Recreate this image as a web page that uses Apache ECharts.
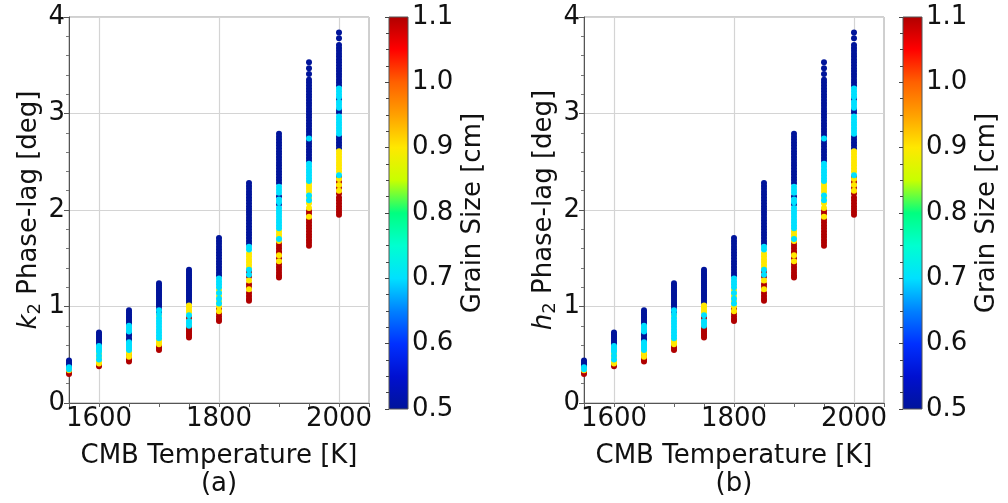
<!DOCTYPE html>
<html>
<head>
<meta charset="utf-8">
<script src="https://cdn.jsdelivr.net/npm/echarts@6/dist/echarts.min.js"></script>
<style>
html,body{margin:0;padding:0;background:#fff;}
#chart{width:1008px;height:503px;}
</style>
</head>
<body>
<div id="chart"></div>
<script>
// ---- data ----
const temps = [1550, 1600, 1650, 1700, 1750, 1800, 1850, 1900, 1950, 2000];
const grainSizes = [0.5, 0.7, 0.9, 1.1];
const xTickLabels = [1600, 1800, 2000];
const cbarTickLabels = ['0.5', '0.6', '0.7', '0.8', '0.9', '1.0', '1.1'];

// k2 phase lag [deg], grain size 0.5 cm, one list per temperature
const k2_g05 = [
  [0.44, 0.42, 0.40, 0.38],
  [0.73, 0.71, 0.69, 0.67, 0.65, 0.63, 0.61],
  [0.96, 0.94, 0.92, 0.90, 0.88, 0.86, 0.84, 0.82, 0.72, 0.70, 0.67, 0.65],
  [1.24, 1.22, 1.20, 1.18, 1.16, 1.14, 1.12, 1.10, 1.08, 1.06, 1.04, 1.02, 1.00, 0.97, 0.94],
  [1.38, 1.36, 1.34, 1.32, 1.30, 1.28, 1.26, 1.24, 1.22, 1.20, 1.18, 1.16, 1.14, 1.12, 1.10, 1.08, 1.06, 1.04],
  [1.71, 1.68, 1.65, 1.62, 1.59, 1.56, 1.53, 1.50, 1.47, 1.44, 1.41, 1.38, 1.35, 1.32],
  [2.28, 2.25, 2.22, 2.19, 2.16, 2.13, 2.10, 2.07, 2.04, 2.01, 1.98, 1.95, 1.92, 1.89, 1.86, 1.83, 1.80, 1.77, 1.74, 1.71, 1.68, 1.65],
  [2.79, 2.76, 2.73, 2.70, 2.67, 2.64, 2.61, 2.58, 2.55, 2.52, 2.49, 2.46, 2.43, 2.40, 2.37, 2.34, 2.31, 2.28, 2.14, 2.06],
  [3.53, 3.47, 3.41, 3.35, 3.32, 3.29, 3.26, 3.23, 3.20, 3.17, 3.14, 3.11, 3.08, 3.05, 3.02, 2.99, 2.96, 2.93, 2.90, 2.87, 2.84, 2.81, 2.78, 2.75, 2.72, 2.69, 2.66, 2.63, 2.60, 2.57, 2.54, 2.51],
  [3.84, 3.78, 3.71, 3.68, 3.65, 3.62, 3.59, 3.56, 3.53, 3.50, 3.47, 3.44, 3.41, 3.38, 3.35, 3.32, 3.29, 3.15, 3.04, 3.01, 2.76, 2.73, 2.70, 2.67, 2.64]
];
// grain size 0.7 cm
const k2_g07 = [
  [0.37, 0.35],
  [0.59, 0.57, 0.55, 0.53, 0.49, 0.45],
  [0.80, 0.78, 0.76, 0.74, 0.63, 0.61, 0.59, 0.57, 0.55],
  [0.96, 0.92, 0.88, 0.85, 0.82, 0.79, 0.76, 0.73, 0.70, 0.67],
  [0.91, 0.85, 0.83, 0.80],
  [1.29, 1.26, 1.23, 1.20, 1.14, 1.08, 1.03],
  [1.62, 1.59, 1.38, 1.33],
  [2.24, 2.21, 2.18, 2.11, 2.08, 2.02, 1.99, 1.96, 1.93, 1.90, 1.87, 1.84, 1.81, 1.70],
  [2.74, 2.48, 2.45, 2.42, 2.39, 2.36, 2.33, 2.30, 2.15, 2.10],
  [3.26, 3.23, 3.20, 3.17, 3.12, 3.09, 3.06, 2.97, 2.94, 2.91, 2.88, 2.85, 2.82, 2.79, 2.36]
];
// grain size 0.9 cm
const k2_g09 = [
  [0.34],
  [0.51, 0.47, 0.43, 0.41],
  [0.53, 0.51, 0.48],
  [0.91, 0.65, 0.63, 0.61],
  [1.01, 0.99, 0.96, 0.94, 0.82],
  [1.17, 1.11, 1.05, 1.00, 0.95],
  [1.55, 1.52, 1.49, 1.46, 1.43, 1.40, 1.27, 1.18],
  [1.78, 1.75, 1.72, 1.68, 1.53, 1.47],
  [2.28, 2.25, 2.22, 2.19, 2.13, 2.07, 2.02, 1.93],
  [2.61, 2.58, 2.55, 2.52, 2.49, 2.46, 2.43, 2.40, 2.32, 2.26, 2.20]
];
// grain size 1.1 cm
const k2_g11 = [
  [0.32, 0.30],
  [0.40, 0.38],
  [0.50, 0.47, 0.45, 0.43],
  [0.59, 0.57, 0.55],
  [0.88, 0.78, 0.76, 0.74, 0.72, 0.70, 0.68],
  [0.98, 0.93, 0.90, 0.87, 0.85],
  [1.36, 1.31, 1.23, 1.20, 1.14, 1.11, 1.08, 1.06],
  [1.66, 1.63, 1.60, 1.57, 1.55, 1.50, 1.44, 1.41, 1.38, 1.35, 1.32, 1.30],
  [1.99, 1.96, 1.90, 1.87, 1.84, 1.81, 1.78, 1.75, 1.72, 1.69, 1.66, 1.63],
  [2.34, 2.29, 2.23, 2.17, 2.13, 2.10, 2.07, 2.04, 2.01, 1.98, 1.95]
];
// h2 phase lag: panel (b) reads identical to panel (a)
const h2_g05 = k2_g05.map(a => a.slice());
const h2_g07 = k2_g07.map(a => a.slice());
const h2_g09 = k2_g09.map(a => a.slice());
const h2_g11 = k2_g11.map(a => a.slice());

// jet-like colour map sampled from the reference colour bar (0.5 .. 1.1, evenly spaced)
const cbarColors = ['#00149a', '#0010d0', '#0030ff', '#0080ff', '#00e0ff', '#00ffd0', '#00ff80',
                    '#c8ff00', '#ffe800', '#ffa000', '#ff6000', '#ff0000', '#b00000'];

// ---- chart ----
const FONT = 'DejaVu Sans';
const TXT = '#111';
const GRIDC = '#d4d4d4';
const NONE = 'rgba(0,0,0,0)';
const chart = echarts.init(document.getElementById('chart'), null, {renderer: 'canvas'});

function buildSeries(lists, xIdx, yIdx) {
  const order = [0, 3, 2, 1]; // draw blue first, cyan last
  return order.map(g => {
    const data = [];
    temps.forEach((t, i) => {
      lists[g][i].forEach(v => data.push([t, v, grainSizes[g]]));
    });
    return {
      type: 'scatter', xAxisIndex: xIdx, yAxisIndex: yIdx,
      symbol: 'circle', symbolSize: 6, data: data, clip: true,
      itemStyle: {opacity: 1}, silent: true, animation: false
    };
  });
}

const gradStops = cbarColors.map((c, i) => ({offset: i / (cbarColors.length - 1), color: c}));

function mainX(gridIndex) {
  return {
    gridIndex, type: 'value', min: 1550, max: 2050, interval: 50,
    axisLine: {show: true, lineStyle: {color: '#555', width: 1}},
    axisTick: {show: true, length: 4, lineStyle: {color: '#666'}},
    axisLabel: {fontFamily: FONT, fontSize: 26, color: TXT, margin: 3,
      formatter: v => (xTickLabels.indexOf(Math.round(Number(v))) >= 0 ? String(Math.round(Number(v))) : '')},
    // split lines only at 1600, 1800, 2000 (ticks every 50 from 1550)
    splitLine: {show: true, lineStyle: {color: [NONE, GRIDC, NONE, NONE], width: 1.2}},
    name: 'CMB Temperature [K]\n' + (gridIndex === 0 ? '(a)' : '(b)'),
    nameLocation: 'middle', nameGap: 39,
    nameTextStyle: {fontFamily: FONT, fontSize: 26, color: TXT, lineHeight: 28}
  };
}
function mainY(gridIndex, sym) {
  return {
    gridIndex, type: 'value', min: 0, max: 4, interval: 1,
    axisLine: {show: true, lineStyle: {color: '#555', width: 1}},
    axisTick: {show: true, length: 5, lineStyle: {color: '#555'}},
    minorTick: {show: true, splitNumber: 5, length: 3, lineStyle: {color: '#777'}},
    axisLabel: {fontFamily: FONT, fontSize: 26, color: TXT, margin: 4},
    splitLine: {show: true, lineStyle: {color: GRIDC, width: 1.2}},
    name: '{k|' + sym + '}{s|2} Phase-lag [deg]',
    nameLocation: 'middle', nameGap: 24, nameRotate: 90,
    nameTextStyle: {fontFamily: FONT, fontSize: 26, color: TXT,
      rich: {
        k: {fontFamily: FONT, fontSize: 26, fontStyle: 'italic', color: TXT},
        s: {fontFamily: FONT, fontSize: 18, color: TXT, padding: [12, 0, 0, 0]}
      }}
  };
}
function cbarX(gridIndex) {
  return {gridIndex, type: 'value', min: 0, max: 1, show: false};
}
function cbarY(gridIndex) {
  return {
    gridIndex, type: 'value', min: 0.5, max: 1.1, interval: 0.1, position: 'right',
    axisLine: {show: false},
    axisTick: {show: true, inside: true, length: 4, lineStyle: {color: '#444'}},
    minorTick: {show: true, splitNumber: 4, length: 3, lineStyle: {color: '#444'}},
    axisLabel: {fontFamily: FONT, fontSize: 26, color: TXT, margin: 4,
      formatter: v => cbarTickLabels[Math.round((v - 0.5) * 10)]},
    splitLine: {show: false},
    name: 'Grain Size [cm]', nameLocation: 'middle', nameGap: 52, nameRotate: 90,
    nameTextStyle: {fontFamily: FONT, fontSize: 26, color: TXT}
  };
}

const seriesA = buildSeries([k2_g05, k2_g07, k2_g09, k2_g11], 0, 0);
const seriesB = buildSeries([h2_g05, h2_g07, h2_g09, h2_g11], 2, 2);

const option = {
  backgroundColor: '#fff',
  animation: false,
  grid: [
    {left: 69, top: 17, width: 300, height: 392, show: true, borderColor: '#a0a0a0', borderWidth: 1, backgroundColor: NONE},
    {left: 389, top: 17, width: 19, height: 392, show: true, borderColor: '#555', borderWidth: 1,
      backgroundColor: new echarts.graphic.LinearGradient(0, 1, 0, 0, gradStops)},
    {left: 584, top: 17, width: 300, height: 392, show: true, borderColor: '#a0a0a0', borderWidth: 1, backgroundColor: NONE},
    {left: 903, top: 17, width: 19, height: 392, show: true, borderColor: '#555', borderWidth: 1,
      backgroundColor: new echarts.graphic.LinearGradient(0, 1, 0, 0, gradStops)}
  ],
  xAxis: [mainX(0), cbarX(1), mainX(2), cbarX(3)],
  yAxis: [mainY(0, 'k'), cbarY(1), mainY(2, 'h'), cbarY(3)],
  visualMap: [
    {type: 'continuous', show: false, dimension: 2, min: 0.5, max: 1.1, seriesIndex: [0, 1, 2, 3], inRange: {color: cbarColors}},
    {type: 'continuous', show: false, dimension: 2, min: 0.5, max: 1.1, seriesIndex: [4, 5, 6, 7], inRange: {color: cbarColors}}
  ],
  series: seriesA.concat(seriesB)
};
chart.setOption(option);
</script>
</body>
</html>
